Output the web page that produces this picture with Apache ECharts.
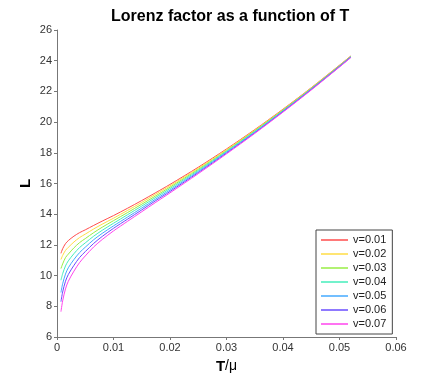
<!DOCTYPE html>
<html>
<head>
<meta charset="utf-8">
<title>Lorenz factor</title>
<script src="https://cdn.jsdelivr.net/npm/echarts@6/dist/echarts.min.js"></script>
<style>
  html, body { margin: 0; padding: 0; background: #fff; }
  #chart { width: 436px; height: 379px; }
</style>
</head>
<body>
<div id="chart"></div>
<script>
// T/mu sample points
const tValues = [0.0007, 0.001, 0.0015, 0.002, 0.003, 0.004, 0.005, 0.0065, 0.008, 0.01,
  0.0125, 0.015, 0.0175, 0.02, 0.025, 0.03, 0.035, 0.04, 0.045, 0.05, 0.052];

const seriesNames = ['v=0.01', 'v=0.02', 'v=0.03', 'v=0.04', 'v=0.05', 'v=0.06', 'v=0.07'];
const seriesColors = ['#ff4d4d', '#ffdd44', '#99ee44', '#44eebb', '#44aaff', '#6a4cff', '#ff44ee'];

// L values, one list per v
const lV001 = [11.45, 11.75, 12.08, 12.28, 12.57, 12.80, 12.98, 13.27, 13.55, 13.91, 14.39, 14.89, 15.41, 15.94, 17.06, 18.25, 19.51, 20.84, 22.24, 23.71, 24.31];
const lV002 = [11.05, 11.31, 11.64, 11.84, 12.19, 12.48, 12.70, 13.04, 13.35, 13.74, 14.25, 14.77, 15.31, 15.85, 16.99, 18.20, 19.47, 20.81, 22.22, 23.69, 24.29];
const lV003 = [10.46, 10.76, 11.17, 11.40, 11.81, 12.15, 12.41, 12.80, 13.15, 13.58, 14.11, 14.65, 15.20, 15.76, 16.92, 18.14, 19.43, 20.78, 22.19, 23.67, 24.27];
const lV004 = [9.70, 10.12, 10.63, 10.96, 11.43, 11.83, 12.13, 12.57, 12.95, 13.41, 13.97, 14.53, 15.10, 15.67, 16.85, 18.09, 19.39, 20.75, 22.17, 23.65, 24.26];
const lV005 = [8.90, 9.47, 10.10, 10.51, 11.05, 11.50, 11.85, 12.34, 12.75, 13.24, 13.82, 14.40, 14.99, 15.57, 16.78, 18.04, 19.34, 20.71, 22.14, 23.63, 24.24];
const lV006 = [8.30, 8.93, 9.63, 10.07, 10.67, 11.18, 11.56, 12.10, 12.55, 13.08, 13.68, 14.28, 14.89, 15.48, 16.71, 17.98, 19.30, 20.68, 22.12, 23.61, 24.22];
const lV007 = [7.65, 8.35, 9.13, 9.63, 10.29, 10.85, 11.28, 11.87, 12.35, 12.91, 13.54, 14.16, 14.78, 15.39, 16.64, 17.93, 19.26, 20.65, 22.09, 23.59, 24.20];

const lSeries = [lV001, lV002, lV003, lV004, lV005, lV006, lV007];

// axis ticks
const xMin = 0, xMax = 0.06, xStep = 0.01;
const yMin = 6, yMax = 26, yStep = 2;

const fontFamily = '"Liberation Sans", Arial, sans-serif';

function initChart() {
  const chart = echarts.init(document.getElementById('chart'));

  const option = {
    backgroundColor: '#fff',
    animation: false,
    // title sits over the plot area, not the whole canvas
    title: {
      text: 'Lorenz factor as a function of T',
      left: 106,
      top: 4,
      textStyle: { fontFamily: fontFamily, fontSize: 16, fontWeight: 'bold', color: '#000' }
    },
    legend: {
      orient: 'vertical',
      left: 316,
      top: 230,
      width: 75,
      padding: [3, 6, 3, 5],
      icon: 'rect',
      itemWidth: 27,
      itemHeight: 1.5,
      itemGap: 0,
      borderColor: '#444',
      borderWidth: 1,
      backgroundColor: '#fff',
      textStyle: { fontFamily: fontFamily, fontSize: 11, lineHeight: 14, color: '#222' },
      data: seriesNames
    },
    grid: { left: 57, right: 40, top: 30, bottom: 41 },
    xAxis: {
      type: 'value',
      min: xMin,
      max: xMax,
      interval: xStep,
      name: '{b|T}{n|/μ}',
      nameLocation: 'middle',
      nameGap: 22,
      nameTextStyle: {
        rich: {
          b: { fontFamily: fontFamily, fontSize: 15, fontWeight: 'bold', color: '#000' },
          n: { fontFamily: fontFamily, fontSize: 14, color: '#000' }
        }
      },
      axisLine: { lineStyle: { color: '#777', width: 1 } },
      axisTick: { length: 3, lineStyle: { color: '#777' } },
      axisLabel: { fontFamily: fontFamily, fontSize: 11, color: '#333', margin: 5 },
      splitLine: { show: false }
    },
    yAxis: {
      type: 'value',
      min: yMin,
      max: yMax,
      interval: yStep,
      name: 'L',
      nameLocation: 'middle',
      nameGap: 24,
      nameMoveOverlap: false,
      nameTextStyle: { fontFamily: fontFamily, fontSize: 15, fontWeight: 'bold', color: '#000' },
      axisLine: { show: true, lineStyle: { color: '#777', width: 1 } },
      axisTick: { show: true, length: 3, lineStyle: { color: '#777' } },
      axisLabel: { fontFamily: fontFamily, fontSize: 11, color: '#333', margin: 5 },
      splitLine: { show: false }
    },
    series: lSeries.map((vals, i) => ({
      name: seriesNames[i],
      type: 'line',
      smooth: 0.3,
      symbol: 'none',
      lineStyle: { color: seriesColors[i], width: 1 },
      itemStyle: { color: seriesColors[i] },
      data: tValues.map((t, j) => [t, vals[j]])
    }))
  };

  chart.setOption(option);
}

initChart();
</script>
</body>
</html>
